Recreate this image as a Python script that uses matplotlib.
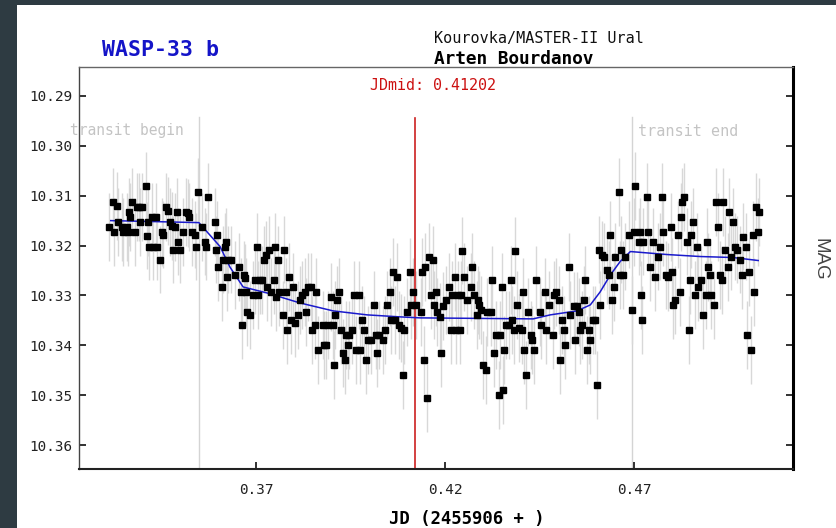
import matplotlib
matplotlib.use("Agg")
import matplotlib.pyplot as plt
from matplotlib.patches import Rectangle

# =====================================================
# 1. DATA
# =====================================================

# JD - 2455906
jd = [
    0.3311, 0.3322, 0.3324, 0.3332, 0.3335, 0.3346, 0.3348, 0.3359, 0.3361, 0.3364,
    0.3367, 0.3372, 0.3380, 0.3385, 0.3390, 0.3393, 0.3398, 0.3409, 0.3412, 0.3414,
    0.3417, 0.3425, 0.3428, 0.3435, 0.3438, 0.3446, 0.3451, 0.3454, 0.3462, 0.3467,
    0.3472, 0.3478, 0.3480, 0.3486, 0.3491, 0.3493, 0.3499, 0.3507, 0.3515, 0.3520,
    0.3523, 0.3531, 0.3539, 0.3541, 0.3547, 0.3557, 0.3565, 0.3568, 0.3573,
    0.3592, 0.3594, 0.3597, 0.3599, 0.3610, 0.3613, 0.3618, 0.3621, 0.3623, 0.3626,
    0.3634, 0.3644, 0.3655, 0.3660, 0.3663, 0.3668, 0.3671, 0.3674, 0.3676, 0.3684,
    0.3692, 0.3697, 0.3703, 0.3705, 0.3711, 0.3716, 0.3721, 0.3726, 0.3729, 0.3734,
    0.3740, 0.3748, 0.3750, 0.3753, 0.3758, 0.3761, 0.3771, 0.3774, 0.3779, 0.3782,
    0.3787, 0.3793, 0.3798, 0.3803, 0.3811, 0.3816, 0.3822, 0.3830, 0.3832, 0.3838,
    0.3845, 0.3848, 0.3856, 0.3858, 0.3864,
    0.3877, 0.3880, 0.3885, 0.3890, 0.3898, 0.3904, 0.3906, 0.3909, 0.3914, 0.3920,
    0.3925, 0.3930, 0.3935, 0.3938, 0.3943, 0.3946, 0.3954, 0.3959, 0.3965, 0.3972,
    0.3975, 0.3980, 0.3986, 0.3991, 0.3996, 0.4004, 0.4012, 0.4017, 0.4020, 0.4025,
    0.4036, 0.4041, 0.4047, 0.4054, 0.4057, 0.4062, 0.4068, 0.4073, 0.4078, 0.4084,
    0.4089, 0.4092, 0.4100, 0.4108, 0.4110, 0.4115, 0.4123, 0.4137, 0.4139, 0.4145,
    0.4147, 0.4153,
    0.4158, 0.4163, 0.4168, 0.4171, 0.4176, 0.4179, 0.4187, 0.4189, 0.4195, 0.4203,
    0.4211, 0.4216, 0.4219, 0.4227, 0.4229, 0.4235, 0.4240, 0.4242, 0.4245, 0.4250,
    0.4258, 0.4269, 0.4271, 0.4277, 0.4285, 0.4287, 0.4290, 0.4295, 0.4300, 0.4308,
    0.4311, 0.4322, 0.4324, 0.4330, 0.4335, 0.4343, 0.4345, 0.4351, 0.4353, 0.4356,
    0.4361, 0.4369, 0.4374, 0.4377, 0.4382, 0.4385, 0.4390, 0.4395, 0.4403, 0.4406,
    0.4408, 0.4414, 0.4419, 0.4427, 0.4430, 0.4435, 0.4441,
    0.4451, 0.4454, 0.4464, 0.4467, 0.4475, 0.4486, 0.4488, 0.4494, 0.4502, 0.4504,
    0.4510, 0.4515, 0.4517, 0.4528, 0.4531, 0.4541, 0.4544, 0.4549, 0.4555, 0.4557,
    0.4562, 0.4568, 0.4570, 0.4576, 0.4581, 0.4584, 0.4592, 0.4597, 0.4602, 0.4607,
    0.4610, 0.4615, 0.4621, 0.4629, 0.4634, 0.4637, 0.4642, 0.4647, 0.4650, 0.4660,
    0.4663, 0.4666, 0.4671, 0.4676, 0.4687, 0.4695, 0.4700, 0.4703, 0.4713, 0.4716,
    0.4719, 0.4721,
    0.4724, 0.4734, 0.4737, 0.4742, 0.4750, 0.4755, 0.4763, 0.4769, 0.4774, 0.4777,
    0.4785, 0.4790, 0.4798, 0.4801, 0.4803, 0.4809, 0.4817, 0.4822, 0.4825, 0.4827,
    0.4832, 0.4840, 0.4845, 0.4848, 0.4851, 0.4856, 0.4861, 0.4867, 0.4869, 0.4877,
    0.4882, 0.4890, 0.4893, 0.4896, 0.4901, 0.4904, 0.4912, 0.4917, 0.4922, 0.4927,
    0.4933, 0.4935, 0.4941, 0.4949, 0.4951, 0.4956, 0.4962, 0.4967, 0.4972, 0.4980,
    0.4986, 0.4988, 0.4996, 0.4999, 0.5004, 0.5009, 0.5015, 0.5017, 0.5023, 0.5028,
    0.5030,
]

mag = [
    10.3162, 10.3112, 10.3172, 10.3120, 10.3152, 10.3162, 10.3172, 10.3162, 10.3172, 10.3132,
    10.3142, 10.3112, 10.3172, 10.3122, 10.3122, 10.3152, 10.3122, 10.3080, 10.3180, 10.3152,
    10.3202, 10.3142, 10.3202, 10.3142, 10.3202, 10.3228, 10.3172, 10.3178, 10.3122, 10.3130,
    10.3152, 10.3160, 10.3208, 10.3162, 10.3132, 10.3192, 10.3208, 10.3172, 10.3132, 10.3135,
    10.3142, 10.3172, 10.3178, 10.3202, 10.3092, 10.3162, 10.3192, 10.3202, 10.3102,
    10.3152, 10.3208, 10.3178, 10.3243, 10.3283, 10.3228, 10.3202, 10.3192, 10.3263, 10.3228,
    10.3228, 10.3259, 10.3243, 10.3293, 10.3359, 10.3259, 10.3265, 10.3293, 10.3333, 10.3339,
    10.3299, 10.3269, 10.3202, 10.3299, 10.3269, 10.3269, 10.3228, 10.3218, 10.3283, 10.3208,
    10.3293, 10.3269, 10.3202, 10.3303, 10.3228, 10.3293, 10.3339, 10.3208, 10.3293, 10.3369,
    10.3263, 10.3349, 10.3283, 10.3355, 10.3339, 10.3309, 10.3299, 10.3293, 10.3333, 10.3283,
    10.3283, 10.3369, 10.3359, 10.3293, 10.3409,
    10.3359, 10.3399, 10.3399, 10.3359, 10.3303, 10.3359, 10.3439, 10.3339, 10.3309, 10.3293,
    10.3369, 10.3415, 10.3429, 10.3379, 10.3399, 10.3379, 10.3369, 10.3299, 10.3409, 10.3299,
    10.3409, 10.3349, 10.3369, 10.3429, 10.3389, 10.3389, 10.3319, 10.3379, 10.3415, 10.3379,
    10.3389, 10.3369, 10.3319, 10.3293, 10.3349, 10.3253, 10.3349, 10.3263, 10.3359, 10.3365,
    10.3459, 10.3369, 10.3333, 10.3253, 10.3319, 10.3293, 10.3319, 10.3333, 10.3253, 10.3429,
    10.3243, 10.3506,
    10.3222, 10.3299, 10.3228, 10.3319, 10.3293, 10.3333, 10.3343, 10.3415, 10.3322, 10.3309,
    10.3283, 10.3369, 10.3299, 10.3263, 10.3369, 10.3299, 10.3369, 10.3299, 10.3210, 10.3263,
    10.3309, 10.3283, 10.3243, 10.3299, 10.3339, 10.3309, 10.3319, 10.3329, 10.3439, 10.3449,
    10.3333, 10.3333, 10.3269, 10.3415, 10.3379, 10.3500, 10.3379, 10.3283, 10.3490, 10.3409,
    10.3359, 10.3359, 10.3269, 10.3349, 10.3369, 10.3210, 10.3319, 10.3365, 10.3369, 10.3293,
    10.3409, 10.3459, 10.3333, 10.3379, 10.3389, 10.3409, 10.3269,
    10.3333, 10.3359, 10.3293, 10.3369, 10.3319, 10.3379, 10.3299, 10.3293, 10.3309, 10.3429,
    10.3349, 10.3369, 10.3399, 10.3243, 10.3339, 10.3322, 10.3389, 10.3322, 10.3333, 10.3369,
    10.3359, 10.3309, 10.3269, 10.3409, 10.3369, 10.3389, 10.3349, 10.3349, 10.3480, 10.3208,
    10.3319, 10.3218, 10.3222, 10.3249, 10.3259, 10.3178, 10.3309, 10.3283, 10.3222, 10.3092,
    10.3259, 10.3208, 10.3259, 10.3222, 10.3178, 10.3329, 10.3172, 10.3080, 10.3192, 10.3172,
    10.3299, 10.3349,
    10.3192, 10.3102, 10.3172, 10.3243, 10.3192, 10.3263, 10.3222, 10.3202, 10.3102, 10.3172,
    10.3259, 10.3263, 10.3162, 10.3253, 10.3319, 10.3309, 10.3178, 10.3293, 10.3142, 10.3112,
    10.3102, 10.3192, 10.3369, 10.3269, 10.3178, 10.3152, 10.3299, 10.3202, 10.3283, 10.3269,
    10.3339, 10.3299, 10.3192, 10.3243, 10.3259, 10.3299, 10.3319, 10.3112, 10.3162, 10.3259,
    10.3269, 10.3112, 10.3208, 10.3243, 10.3132, 10.3222, 10.3152, 10.3202, 10.3208, 10.3228,
    10.3259, 10.3182, 10.3202, 10.3379, 10.3253, 10.3409, 10.3178, 10.3293, 10.3122, 10.3172,
    10.3132,
]

MAG_ERR = 0.0068

# transit model (blue curve)
model_jd = [0.3316, 0.3549, 0.3605, 0.3631, 0.3666, 0.3729, 0.3816, 0.3904, 0.3994,
            0.4081, 0.4134, 0.4433, 0.4478, 0.4549, 0.4584, 0.4610, 0.4637, 0.4663,
            0.4690, 0.4787, 0.4875, 0.4962, 0.5028]
model_mag = [10.3150, 10.3154, 10.3202, 10.3243, 10.3283, 10.3295, 10.3315, 10.3331,
             10.3339, 10.3343, 10.3345, 10.3347, 10.3339, 10.3331, 10.3319, 10.3293,
             10.3259, 10.3232, 10.3212, 10.3218, 10.3222, 10.3224, 10.3230]

JD_MID = 0.41202
T_BEGIN = 0.3550
T_END = 0.4695

X_TICKS = [0.37, 0.42, 0.47]
Y_TICKS = [10.29, 10.30, 10.31, 10.32, 10.33, 10.34, 10.35, 10.36]

# =====================================================
# 2. FIGURE
# =====================================================

W, H = 836, 528
fig = plt.figure(figsize=(W / 100, H / 100), dpi=100)
fig.patch.set_facecolor("#2e3b42")
fig.add_artist(Rectangle((17 / W, 0), 1 - 17 / W, 1 - 5 / H,
                         transform=fig.transFigure, facecolor="white",
                         edgecolor="none", zorder=0))

ax = fig.add_axes([79 / W, 1 - 469 / H, (793 - 79) / W, (469 - 67) / H])
ax.set_facecolor("white")
ax.set_xlim(0.3232, 0.5120)
ax.set_ylim(10.3648, 10.2842)

mono = "DejaVu Sans Mono"

# data + error bars
ax.errorbar(jd, mag, yerr=MAG_ERR, fmt="none", ecolor="#d8d8d8",
            elinewidth=1.0, zorder=1)
ax.plot(model_jd, model_mag, color="#1a1acc", lw=1.1, zorder=3)
ax.plot(jd, mag, "s", color="black", ms=3.8, mec="black", zorder=4)

# transit markers
ax.plot([T_BEGIN, T_BEGIN], [10.2942, 10.3648], color="#d4d4d4", lw=1, zorder=0.5)
ax.plot([T_END, T_END], [10.2942, 10.3648], color="#d4d4d4", lw=1, zorder=0.5)
ax.plot([JD_MID, JD_MID], [10.2944, 10.3648], color="#cc2020", lw=1.2, zorder=2)

# spines
ax.spines["left"].set_color("#444444")
ax.spines["left"].set_linewidth(1.0)
ax.spines["top"].set_color("#666666")
ax.spines["top"].set_linewidth(1.0)
ax.spines["right"].set_color("black")
ax.spines["right"].set_linewidth(2.2)
ax.spines["bottom"].set_color("#222222")
ax.spines["bottom"].set_linewidth(1.5)

ax.set_xticks(X_TICKS)
ax.set_xticklabels(["%.2f" % v for v in X_TICKS])
ax.set_yticks(Y_TICKS)
ax.set_yticklabels(["%.2f" % v for v in Y_TICKS])
ax.tick_params(axis="y", direction="in", length=5, width=1.3, color="#222222",
               left=True, right=True, labelsize=10.4, pad=5, labelcolor="#222222")
ax.tick_params(axis="x", direction="in", length=5, width=1.3, color="#222222",
               bottom=True, top=False, labelsize=10.4, pad=10, labelcolor="#222222")
for lab in ax.get_xticklabels() + ax.get_yticklabels():
    lab.set_family(mono)

# texts
fig.text(161 / W, 1 - 50 / H, "WASP-33 b", color="#1414c8", fontsize=15.5,
         fontweight="bold", family=mono, ha="center", va="center")
fig.text(434 / W, 1 - 38 / H, "Kourovka/MASTER-II Ural", color="#111111",
         fontsize=10.9, family=mono, ha="left", va="center")
fig.text(434 / W, 1 - 59 / H, "Arten Bourdanov", color="black",
         fontsize=12.8, fontweight="bold", family=mono, ha="left", va="center")
fig.text(370 / W, 1 - 86 / H, "JDmid: 0.41202", color="#cc1111",
         fontsize=10.8, family=mono, ha="left", va="center")
fig.text(70 / W, 1 - 131 / H, "transit begin", color="#c4c4c4",
         fontsize=10.5, family=mono, ha="left", va="center")
fig.text(638 / W, 1 - 131 / H, "transit end", color="#c4c4c4",
         fontsize=10.9, family=mono, ha="left", va="center")
fig.text(820 / W, 1 - 259 / H, "MAG", color="#444444", fontsize=13.5,
         family="Liberation Sans", rotation=-90, ha="center", va="center")
fig.text(467 / W, 1 - 519 / H, "JD (2455906 + )", color="black",
         fontsize=12.4, fontweight="bold", family=mono, ha="center", va="center")

fig.savefig("out.png", dpi=100, facecolor=fig.get_facecolor())
